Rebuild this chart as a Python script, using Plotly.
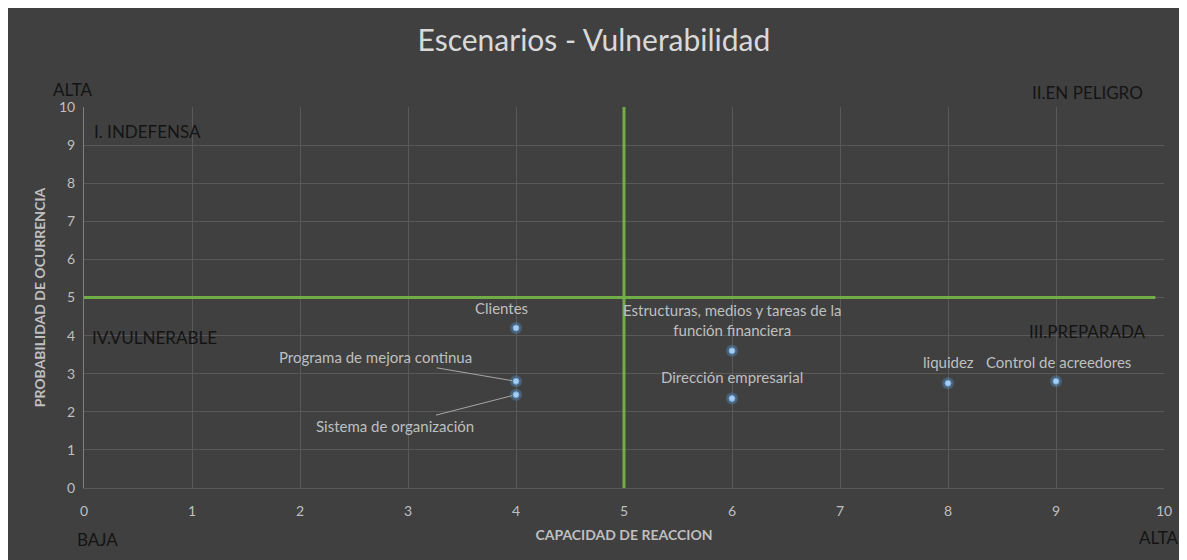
import plotly.graph_objects as go

# ---- data ----
labels = ["Clientes", "Programa de mejora continua", "Sistema de organización",
          "Estructuras, medios y tareas de la<br>función financiera",
          "Dirección empresarial", "liquidez", "Control de acreedores"]
capacidad = [4, 4, 4, 6, 6, 8, 9]
probabilidad = [4.2, 2.8, 2.45, 3.6, 2.35, 2.75, 2.8]

x_ticks = list(range(0, 11))
y_ticks = list(range(0, 11))

quadrant_texts = ["ALTA", "I. INDEFENSA", "II.EN PELIGRO", "IV.VULNERABLE",
                  "III.PREPARADA", "BAJA", "ALTA"]

threshold_x = 5
threshold_y = 5

# ---- styling / placement (paper fractions and pixel offsets) ----
quadrant_px = [-0.011, 0.0074, 0.982, 0.0056, 0.985, -0.0083, 1.015]
quadrant_py = [1.045, 0.937, 1.037, 0.396, 0.412, -0.136, -0.129]
quadrant_anchor = ["center", "left", "right", "left", "right", "left", "right"]

label_xshift = [-15, 0, 0, 0, 0, 0, 2]
label_yshift = [20, 0, 0, 31, 21, 21, 19]
label_arrow_ax = [None, -141, -121, None, None, None, None]
label_arrow_ay = [None, -24, 31, None, None, None, None]

FONT = "Lato"
BG = "#404040"
GRID = "#595959"
TXT = "#bfbfbf"

fig = go.Figure()

# glow
fig.add_trace(go.Scatter(x=capacidad, y=probabilidad, mode="markers",
                         marker=dict(size=12, color="rgba(91,155,213,0.35)", line=dict(width=0)),
                         hoverinfo="skip", showlegend=False))
fig.add_trace(go.Scatter(x=capacidad, y=probabilidad, mode="markers",
                         marker=dict(size=6, color="#a9cdf0", line=dict(width=1, color="#6fa6de")),
                         text=labels, showlegend=False))

# threshold lines
fig.add_trace(go.Scatter(x=[x_ticks[0], 9.92], y=[threshold_y, threshold_y], mode="lines",
                         line=dict(color="#70ad47", width=3), hoverinfo="skip", showlegend=False))
fig.add_trace(go.Scatter(x=[threshold_x, threshold_x], y=[y_ticks[0], y_ticks[-1]], mode="lines",
                         line=dict(color="#70ad47", width=3), hoverinfo="skip", showlegend=False))

annotations = []
for i, lab in enumerate(labels):
    if label_arrow_ax[i] is None:
        annotations.append(dict(x=capacidad[i], y=probabilidad[i], xref="x", yref="y",
                                text=lab, showarrow=False, xshift=label_xshift[i],
                                yshift=label_yshift[i],
                                font=dict(family=FONT, size=15, color=TXT)))
    else:
        annotations.append(dict(x=capacidad[i], y=probabilidad[i], xref="x", yref="y",
                                text=lab, showarrow=True, arrowhead=0, arrowwidth=1,
                                arrowcolor="#a6a6a6", ax=label_arrow_ax[i], ay=label_arrow_ay[i],
                                standoff=4,
                                font=dict(family=FONT, size=15, color=TXT)))

for t, qx, qy, anc in zip(quadrant_texts, quadrant_px, quadrant_py, quadrant_anchor):
    annotations.append(dict(x=qx, y=qy, xref="paper", yref="paper", text=t, showarrow=False,
                            xanchor=anc, yanchor="middle",
                            font=dict(family=FONT, size=17, color="#141414")))

W, H = 1179, 552
L, R, T, B = 76, 23, 99, 72

fig.update_layout(
    width=W, height=H,
    margin=dict(l=L, r=R, t=T, b=B),
    paper_bgcolor=BG, plot_bgcolor=BG,
    title=dict(text="Escenarios - Vulnerabilidad", x=0.497, xanchor="center",
               y=1 - 32 / H, yanchor="middle",
               font=dict(family=FONT, size=30, color="#d9d9d9")),
    annotations=annotations,
    xaxis=dict(range=[0, 10], tickvals=x_ticks, showgrid=True, gridcolor=GRID, gridwidth=1,
               zeroline=False, showline=True, linecolor=GRID, mirror=False,
               ticks="", ticklabelstandoff=10,
               tickfont=dict(family=FONT, size=14, color=TXT),
               title=dict(text="<b>CAPACIDAD DE REACCION</b>", standoff=12,
                          font=dict(family=FONT, size=14, color=TXT))),
    yaxis=dict(range=[0, 10], tickvals=y_ticks, showgrid=True, gridcolor=GRID, gridwidth=1,
               zeroline=False, showline=True, linecolor="#7f7f7f",
               ticks="", ticklabelstandoff=5,
               tickfont=dict(family=FONT, size=14, color=TXT),
               title=dict(text="<b>PROBABILIDAD DE OCURRENCIA</b>", standoff=10,
                          font=dict(family=FONT, size=14, color=TXT))),
    font=dict(family=FONT),
)

fig.write_html("out.html")
